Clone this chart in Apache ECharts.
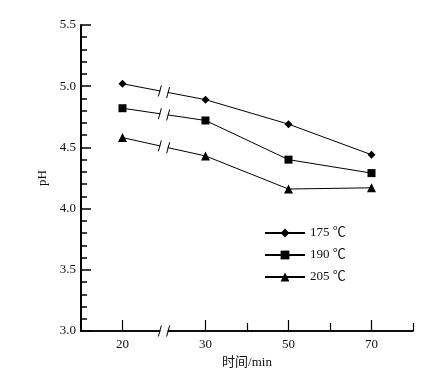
<!DOCTYPE html>
<html><head><meta charset="utf-8">
<script src="https://cdn.jsdelivr.net/npm/echarts@6/dist/echarts.min.js"></script>
<style>html,body{margin:0;padding:0;background:#fff}#c{width:436px;height:385px}</style>
</head><body><div id="c"></div>
<script>
// Data
var times = [20, 30, 50, 70];              // min
var ph175 = [5.02, 4.89, 4.69, 4.44];
var ph190 = [4.82, 4.72, 4.40, 4.29];
var ph205 = [4.58, 4.43, 4.16, 4.17];
var seriesNames = ['175 ℃', '190 ℃', '205 ℃'];
var seriesSymbols = ['diamond', 'rect', 'triangle'];
var yTicks = [3.0, 3.5, 4.0, 4.5, 5.0, 5.5];
var xTickLabels = [20, 30, 50, 70];

// broken axis: 20 min is drawn at display position 10, the rest at their own value
function pos(t) { return t <= 20 ? t - 10 : t; }
var BREAK_L = 19, BREAK_R = 21;
var FONT = '"Liberation Serif", "Noto Sans CJK SC", serif';

var allSeries = [ph175, ph190, ph205];
var lineSeries = allSeries.map(function (vals, i) {
  return {
    name: seriesNames[i], type: 'line',
    data: times.map(function (t, k) { return [pos(t), vals[k]]; }),
    symbol: seriesSymbols[i],
    symbolSize: i === 2 ? 9 : 8,
    itemStyle: { color: '#000' },
    lineStyle: { color: '#000', width: 1 },
    z: 3
  };
});

var breakSeries = {
  type: 'custom', silent: true, clip: false, z: 5, xAxisIndex: 0,
  data: [[0]],
  renderItem: function (params, api) {
    var xl = api.coord([BREAK_L, 3.0])[0];
    var xr = api.coord([BREAK_R, 3.0])[0];
    var yb = api.coord([BREAK_L, 3.0])[1];
    var yt = api.coord([BREAK_L, 5.5])[1];
    var children = [{
      type: 'rect', shape: { x: xl + 0.5, y: yt, width: xr - xl - 1, height: yb - yt + 3 },
      style: { fill: '#fff' }
    }];
    function slash(x, y) {
      children.push({ type: 'line', shape: { x1: x - 1.5, y1: y + 5.5, x2: x + 1.5, y2: y - 5.5 },
        style: { stroke: '#000', lineWidth: 1 } });
    }
    allSeries.forEach(function (vals) {
      var p0 = api.coord([pos(times[0]), vals[0]]);
      var p1 = api.coord([pos(times[1]), vals[1]]);
      [xl, xr].forEach(function (x) {
        var f = (x - p0[0]) / (p1[0] - p0[0]);
        slash(x, p0[1] + f * (p1[1] - p0[1]));
      });
    });
    slash(xl, yb); slash(xr, yb);
    return { type: 'group', children: children };
  }
};

var chart = echarts.init(document.getElementById('c'));
var xCommon = {
  type: 'value', min: 0, max: 80, interval: 10, position: 'bottom',
  splitLine: { show: false },
  axisLine: { show: true, onZero: false, lineStyle: { color: '#000', width: 1.5 } }
};
chart.setOption({
  animation: false,
  backgroundColor: '#fff',
  textStyle: { fontFamily: FONT },
  grid: { left: 81, right: 23, top: 25, bottom: 54 },
  legend: {
    orient: 'vertical', left: 264, top: 226, padding: 0,
    itemWidth: 40, itemHeight: 11, itemGap: 8,
    textStyle: { fontFamily: FONT, fontSize: 13, color: '#111', lineHeight: 14 },
    data: seriesNames
  },
  xAxis: [
    Object.assign({}, xCommon, {
      axisTick: { show: true, inside: true, length: 8, customValues: [40, 60, 80], lineStyle: { color: '#000', width: 1.2 } },
      axisLabel: { show: false }
    }),
    Object.assign({}, xCommon, {
      name: '时间/min', nameLocation: 'middle', nameGap: 24,
      nameTextStyle: { fontFamily: FONT, fontSize: 13, color: '#111' },
      axisTick: { show: true, inside: true, length: 11, customValues: xTickLabels.map(pos), lineStyle: { color: '#000', width: 1.2 } },
      axisLabel: { show: true, customValues: xTickLabels.map(pos), margin: 7, fontFamily: FONT, fontSize: 13, color: '#111',
        formatter: function (v) { return v === 10 ? '20' : String(v); } }
    })
  ],
  yAxis: {
    type: 'value', min: 3.0, max: 5.5, interval: 0.5,
    name: 'pH', nameLocation: 'middle', nameGap: 32, nameRotate: 90,
    nameTextStyle: { fontFamily: FONT, fontSize: 13, color: '#111' },
    splitLine: { show: false },
    axisLine: { show: true, lineStyle: { color: '#000', width: 2 } },
    axisTick: { show: true, inside: true, length: 10, lineStyle: { color: '#000', width: 1.5 } },
    minorTick: { show: true, splitNumber: 5, length: 6, lineStyle: { color: '#000', width: 1.5 } },
    axisLabel: { margin: 5, fontFamily: FONT, fontSize: 13, color: '#111',
      customValues: yTicks, formatter: function (v) { return v.toFixed(1); } }
  },
  series: lineSeries.concat([breakSeries])
});
</script></body></html>
